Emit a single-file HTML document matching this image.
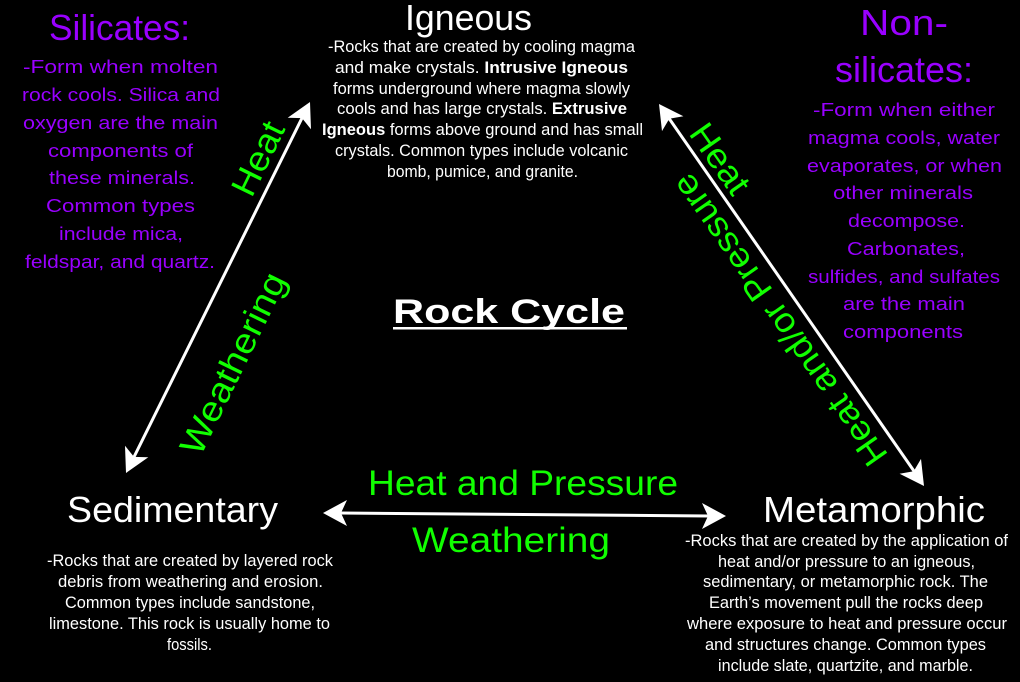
<!DOCTYPE html>
<html>
<head>
<meta charset="utf-8">
<style>
html,body{margin:0;padding:0;background:#000;}
svg{display:block;}
text{font-family:"Liberation Sans",Arial,sans-serif;}
.p{fill:#9900ff;}
.w{fill:#ffffff;}
.g{fill:#11ff00;}
</style>
</head>
<body>
<svg width="1020" height="682" viewBox="0 0 1020 682" xmlns="http://www.w3.org/2000/svg">
<rect width="1020" height="682" fill="#000"/>

<!-- Arrows -->
<g stroke="#fff" stroke-width="3" stroke-linecap="round" fill="none">
  <line x1="132" y1="461" x2="304" y2="114"/>
  <line x1="666" y1="114" x2="916" y2="474"/>
  <line x1="340" y1="513" x2="709" y2="516"/>
</g>
<g fill="#fff">
  <polygon points="310,102 311,129.3 302,118.1 287.7,117.7"/>
  <polygon points="126,473 148.3,457.3 134,456.9 125,445.7"/>
  <polygon points="659,104 683.4,116.3 669.3,118.8 662,131.1"/>
  <polygon points="924,486 921,458.9 913.7,471.2 899.6,473.7"/>
  <polygon points="323,513 347,526 341,513 347,500"/>
  <polygon points="726,516 702,503 708,516 702,529"/>
</g>

<!-- Silicates -->
<text class="p" x="49" y="40" font-size="36" textLength="141" lengthAdjust="spacingAndGlyphs">Silicates:</text>
<g class="p" font-size="18.5">
  <text x="23" y="73" textLength="195" lengthAdjust="spacingAndGlyphs">-Form when molten</text>
  <text x="22" y="101" textLength="198" lengthAdjust="spacingAndGlyphs">rock cools. Silica and</text>
  <text x="23" y="129" textLength="195" lengthAdjust="spacingAndGlyphs">oxygen are the main</text>
  <text x="48" y="157" textLength="145" lengthAdjust="spacingAndGlyphs">components of</text>
  <text x="49" y="184" textLength="146" lengthAdjust="spacingAndGlyphs">these minerals.</text>
  <text x="46" y="212" textLength="149" lengthAdjust="spacingAndGlyphs">Common types</text>
  <text x="59" y="240" textLength="124" lengthAdjust="spacingAndGlyphs">include mica,</text>
  <text x="25" y="268" textLength="190" lengthAdjust="spacingAndGlyphs">feldspar, and quartz.</text>
</g>

<!-- Igneous -->
<text class="w" x="405" y="30" font-size="36" textLength="127" lengthAdjust="spacingAndGlyphs">Igneous</text>
<g class="w" font-size="16.5">
  <text x="328" y="52" textLength="307" lengthAdjust="spacingAndGlyphs">-Rocks that are created by cooling magma</text>
  <text x="335" y="73" textLength="293" lengthAdjust="spacingAndGlyphs">and make crystals. <tspan font-weight="bold">Intrusive Igneous</tspan></text>
  <text x="333" y="94" textLength="297" lengthAdjust="spacingAndGlyphs">forms underground where magma slowly</text>
  <text x="337" y="114" textLength="290" lengthAdjust="spacingAndGlyphs">cools and has large crystals. <tspan font-weight="bold">Extrusive</tspan></text>
  <text x="322" y="135" textLength="321" lengthAdjust="spacingAndGlyphs"><tspan font-weight="bold">Igneous</tspan> forms above ground and has small</text>
  <text x="335" y="156" textLength="293" lengthAdjust="spacingAndGlyphs">crystals. Common types include volcanic</text>
  <text x="387" y="177" textLength="191" lengthAdjust="spacingAndGlyphs">bomb, pumice, and granite.</text>
</g>

<!-- Non-silicates -->
<text class="p" x="860" y="35" font-size="36" textLength="88" lengthAdjust="spacingAndGlyphs">Non-</text>
<text class="p" x="835" y="82" font-size="36" textLength="138" lengthAdjust="spacingAndGlyphs">silicates:</text>
<g class="p" font-size="18.5">
  <text x="813" y="116" textLength="182" lengthAdjust="spacingAndGlyphs">-Form when either</text>
  <text x="808" y="144" textLength="192" lengthAdjust="spacingAndGlyphs">magma cools, water</text>
  <text x="807" y="172" textLength="195" lengthAdjust="spacingAndGlyphs">evaporates, or when</text>
  <text x="833" y="199" textLength="140" lengthAdjust="spacingAndGlyphs">other minerals</text>
  <text x="848" y="227" textLength="117" lengthAdjust="spacingAndGlyphs">decompose.</text>
  <text x="847" y="255" textLength="118" lengthAdjust="spacingAndGlyphs">Carbonates,</text>
  <text x="808" y="283" textLength="192" lengthAdjust="spacingAndGlyphs">sulfides, and sulfates</text>
  <text x="843" y="310" textLength="122" lengthAdjust="spacingAndGlyphs">are the main</text>
  <text x="843" y="338" textLength="120" lengthAdjust="spacingAndGlyphs">components</text>
</g>

<!-- Rock Cycle -->
<text class="w" x="393" y="323" font-size="34" font-weight="bold" textLength="232" lengthAdjust="spacingAndGlyphs">Rock Cycle</text>
<rect x="393" y="327" width="234" height="2.5" fill="#fff"/>

<!-- Horizontal labels -->
<text class="g" x="368" y="495" font-size="35" textLength="310" lengthAdjust="spacingAndGlyphs">Heat and Pressure</text>
<text class="g" x="412" y="552" font-size="35" textLength="198" lengthAdjust="spacingAndGlyphs">Weathering</text>

<!-- Rotated labels -->
<text class="g" font-size="35" transform="translate(257,158) rotate(-64)" x="-39" y="13" textLength="78" lengthAdjust="spacingAndGlyphs">Heat</text>
<text class="g" font-size="35" transform="translate(232,363) rotate(-64)" x="-99" y="13" textLength="198" lengthAdjust="spacingAndGlyphs">Weathering</text>
<text class="g" font-size="35" transform="translate(721,158) rotate(55)" x="-39" y="13" textLength="78" lengthAdjust="spacingAndGlyphs">Heat</text>
<text class="g" font-size="35" transform="translate(779,321) rotate(235)" x="-173" y="13" textLength="347" lengthAdjust="spacingAndGlyphs">Heat and/or Pressure</text>

<!-- Sedimentary -->
<text class="w" x="67" y="522" font-size="36" textLength="211" lengthAdjust="spacingAndGlyphs">Sedimentary</text>
<g class="w" font-size="16.5">
  <text x="47" y="566" textLength="286" lengthAdjust="spacingAndGlyphs">-Rocks that are created by layered rock</text>
  <text x="58" y="587" textLength="265" lengthAdjust="spacingAndGlyphs">debris from weathering and erosion.</text>
  <text x="65" y="608" textLength="250" lengthAdjust="spacingAndGlyphs">Common types include sandstone,</text>
  <text x="49" y="629" textLength="281" lengthAdjust="spacingAndGlyphs">limestone. This rock is usually home to</text>
  <text x="167" y="650" textLength="45" lengthAdjust="spacingAndGlyphs">fossils.</text>
</g>

<!-- Metamorphic -->
<text class="w" x="763" y="522" font-size="36" textLength="222" lengthAdjust="spacingAndGlyphs">Metamorphic</text>
<g class="w" font-size="16.5">
  <text x="685" y="546" textLength="323" lengthAdjust="spacingAndGlyphs">-Rocks that are created by the application of</text>
  <text x="718" y="567" textLength="257" lengthAdjust="spacingAndGlyphs">heat and/or pressure to an igneous,</text>
  <text x="703" y="587" textLength="285" lengthAdjust="spacingAndGlyphs">sedimentary, or metamorphic rock. The</text>
  <text x="709" y="608" textLength="274" lengthAdjust="spacingAndGlyphs">Earth’s movement pull the rocks deep</text>
  <text x="687" y="629" textLength="320" lengthAdjust="spacingAndGlyphs">where exposure to heat and pressure occur</text>
  <text x="705" y="650" textLength="281" lengthAdjust="spacingAndGlyphs">and structures change. Common types</text>
  <text x="718" y="671" textLength="255" lengthAdjust="spacingAndGlyphs">include slate, quartzite, and marble.</text>
</g>
</svg>
</body>
</html>
